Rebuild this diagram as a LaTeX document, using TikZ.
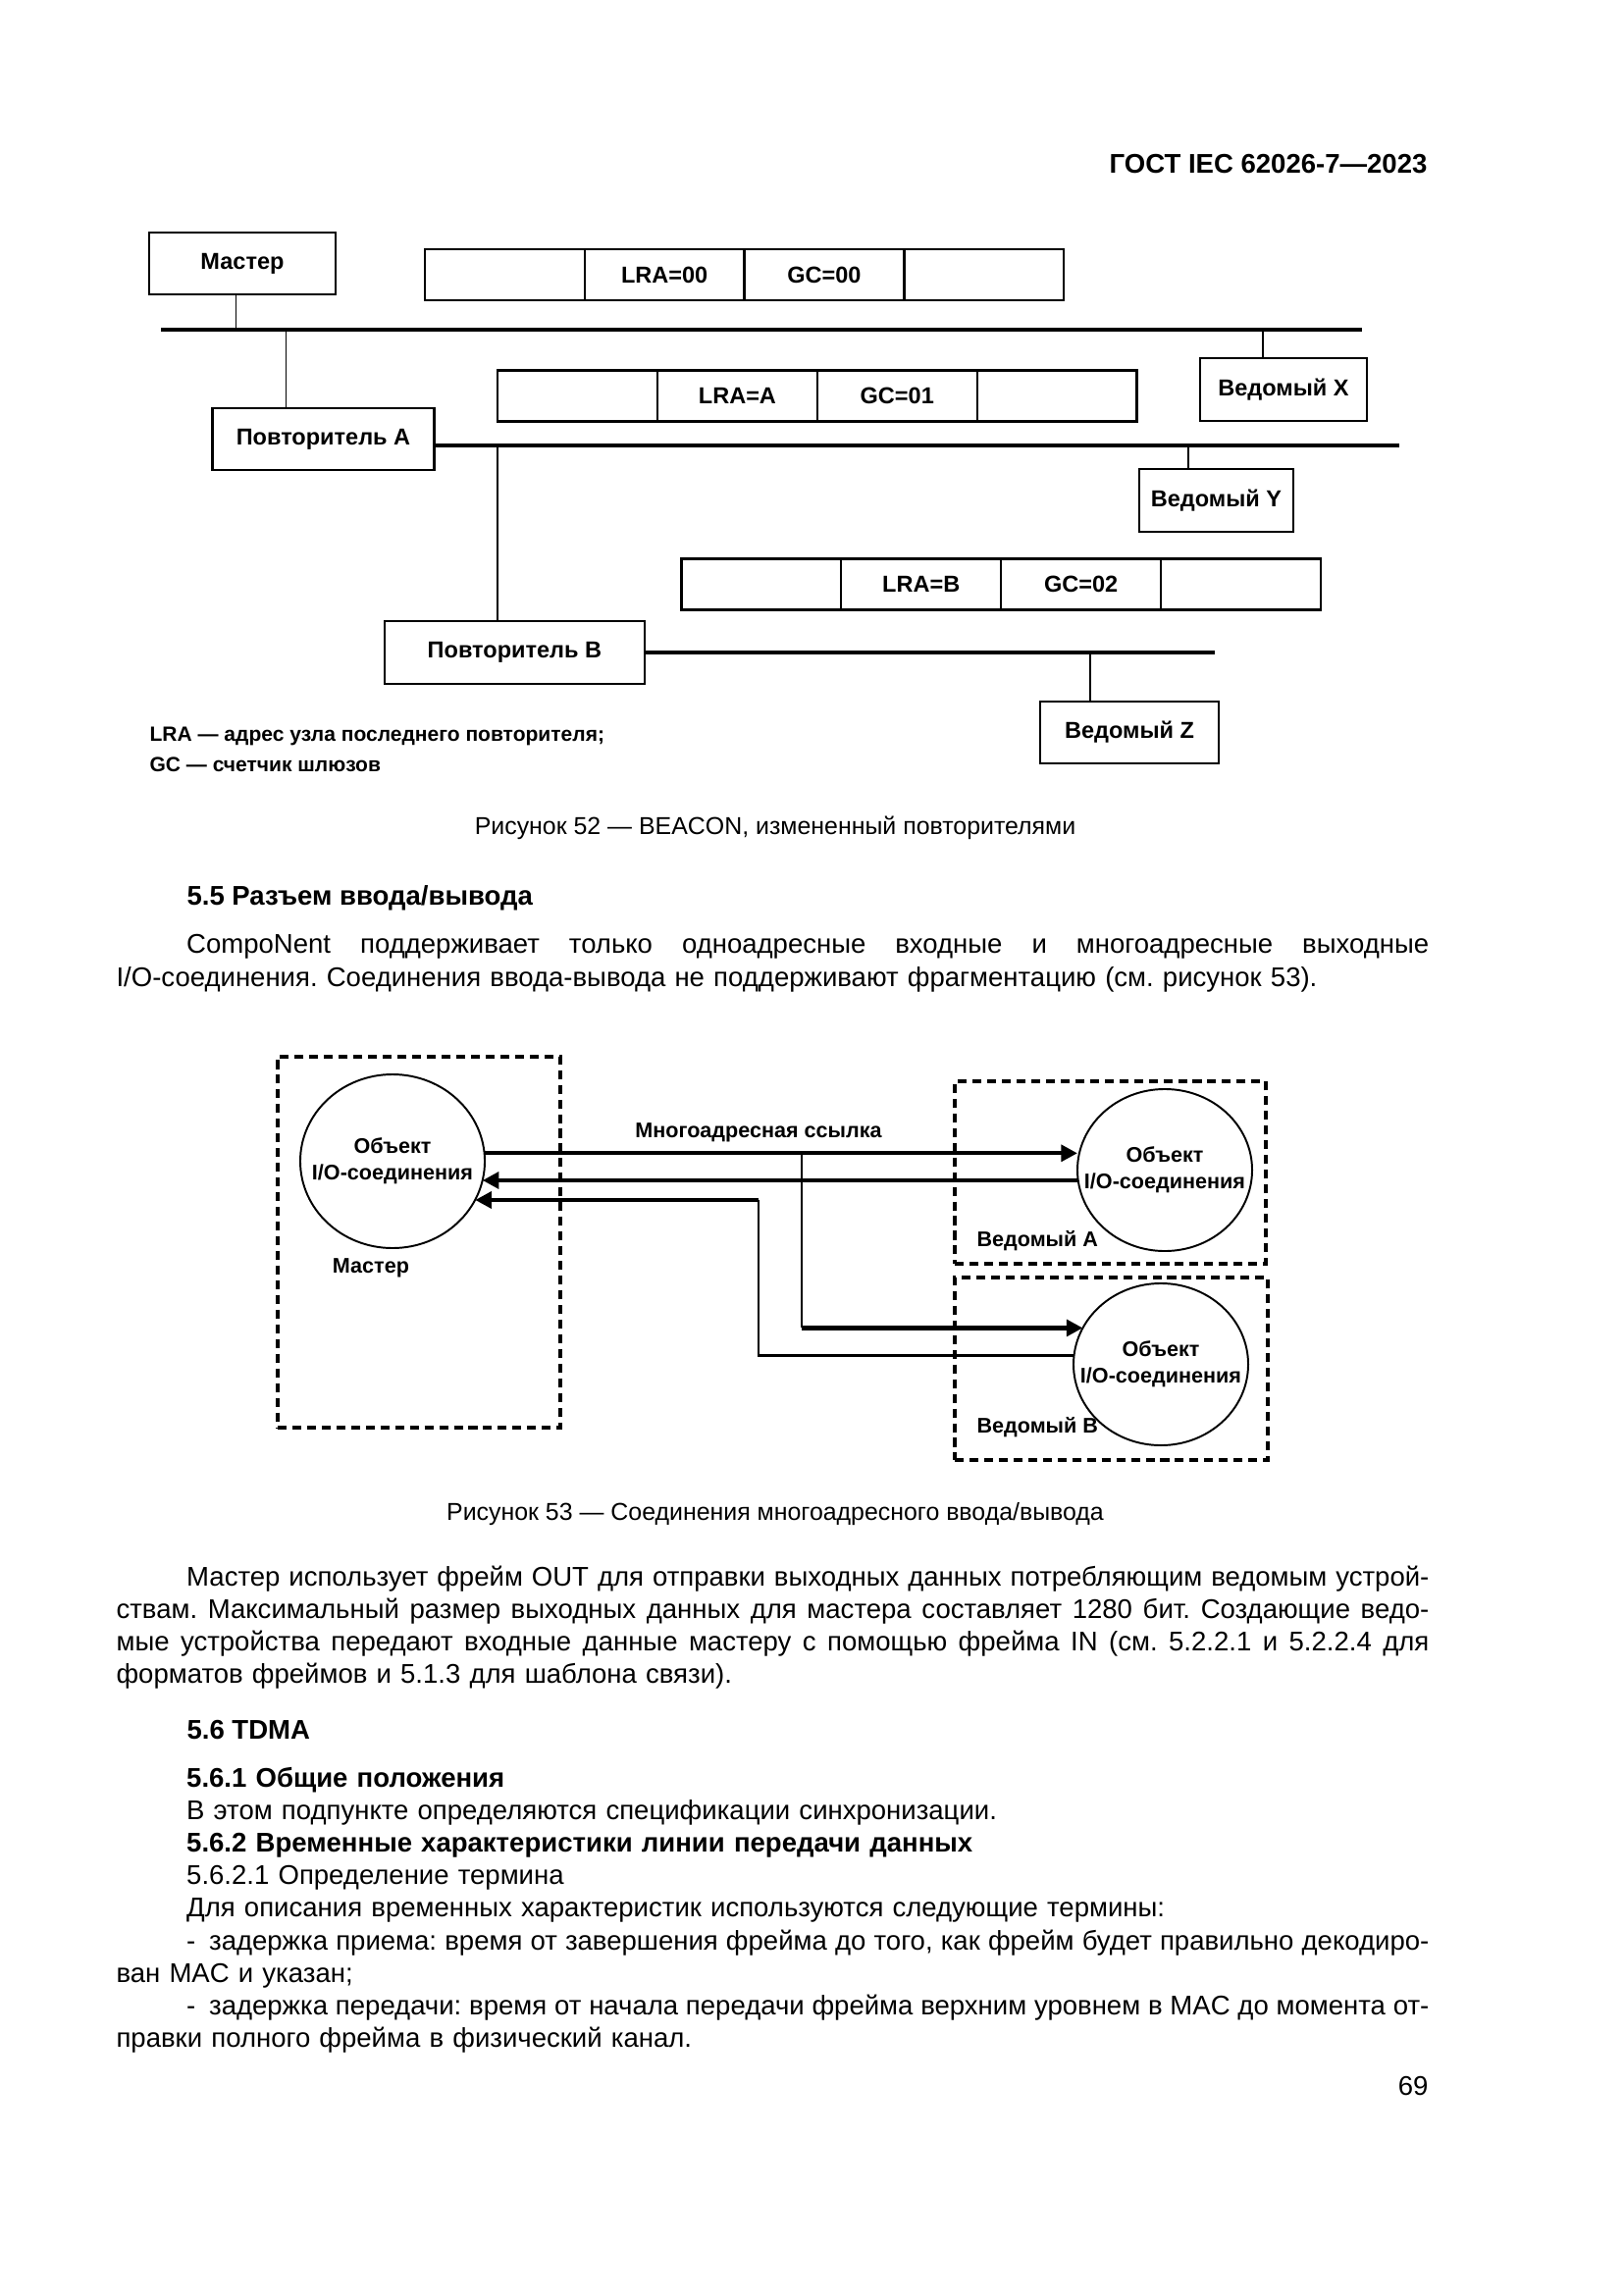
\documentclass[tikz,border=0pt]{standalone}
\usepackage{fontspec}
\setmainfont{Liberation Sans}
\usepackage{tikz}
\usetikzlibrary{positioning}
\usetikzlibrary{shapes.geometric}
\usetikzlibrary{arrows.meta}

\newcommand{\figfont}{\fontsize{8.5}{10}\selectfont\bfseries}
\newcommand{\objfont}{\fontsize{7.8}{9.7}\selectfont\bfseries}
\newcommand{\legendfont}{\fontsize{7.6}{9}\selectfont\bfseries}
\newcommand{\capfont}{\fontsize{9}{11}\selectfont}
\newcommand{\bodyfont}{\fontsize{9.95}{12}\selectfont\frenchspacing}
\newlength{\bodywidth}
\setlength{\bodywidth}{169.9mm}
\newcommand{\firstind}{\hspace*{9.1mm}}
\newcommand{\jline}[1]{\leavevmode\hbox to \bodywidth{\spaceskip=2.77pt plus 4pt minus 1.3pt\relax #1}}

\tikzset{
  unit/.style={draw, line width=0.8pt, minimum height=8mm, inner sep=0pt, outer sep=0pt, font=\figfont},
  cell/.style={unit, minimum width=20.68mm, minimum height=6.6mm},
  bus/.style={line width=1.2pt},
  stem/.style={line width=0.6pt},
  legend/.style={anchor=base west, inner sep=0pt, font=\legendfont},
  groupbox/.style={draw, line width=1.4pt, dash pattern=on 1.15mm off 0.75mm, inner sep=0pt},
  obj/.style={draw, ellipse, line width=0.7pt, inner sep=0pt, outer sep=0pt},
  objtext/.style={font=\objfont, align=center, inner sep=0pt},
  flow/.style={line width=1.5pt, -{Triangle[length=2.1mm,width=2.1mm]}},
  flowline/.style={line width=1pt},
  caption/.style={anchor=base, inner sep=0pt, font=\capfont},
  heading/.style={anchor=base west, inner sep=0pt, font=\bodyfont\bfseries},
  para/.style={anchor=base west, inner sep=0pt, text width=\bodywidth, align=left, font=\bodyfont},
}

\begin{document}
\begin{tikzpicture}[x=0.127mm, y=-0.127mm]
\fill[white] (0,0) rectangle (1654,2339);
\useasboundingbox (0,0) rectangle (1654,2339);

\node[anchor=base east, inner sep=0pt, font=\bodyfont\bfseries] (gost) at (1455,177) {ГОСТ IEC 62026-7—2023};

% Figure 52
\node[unit, minimum width=24.1mm] (master) at (247,268.5) {Мастер};
\node[cell] (f1a) at (514.3,280) {};
\node[cell, right=0pt of f1a] (f1b) {LRA=00};
\node[cell, right=0pt of f1b] (f1c) {GC=00};
\node[cell, right=0pt of f1c] (f1d) {};

\coordinate (bus1w) at (164,336);
\coordinate (bus1e) at (1388,336);
\draw[bus] (bus1w) -- (bus1e);
\coordinate (mstem) at ([xshift=-0.84mm]master.south);
\draw[stem] (mstem) -- (mstem |- bus1w);

\node[unit, minimum width=28.7mm] (repA) at (329.5,447.5) {Повторитель A};
\coordinate (astem) at ([xshift=-4.83mm]repA.north);
\draw[stem] (astem) -- (astem |- bus1w);

\node[unit, minimum width=21.5mm, minimum height=8.13mm] (slX) at (1308,397) {Ведомый X};
\coordinate (xstem) at ([xshift=-2.67mm]slX.north);
\draw[stem] (xstem) -- (xstem |- bus1w);

\node[cell] (f2a) at (588.6,403.5) {};
\node[cell, right=0pt of f2a] (f2b) {LRA=A};
\node[cell, right=0pt of f2b] (f2c) {GC=01};
\node[cell, right=0pt of f2c] (f2d) {};

\coordinate (bus2e) at (1425.6,454);
\draw[bus] (repA.east |- bus2e) -- (bus2e);

\node[unit, minimum width=20mm, minimum height=8.13mm] (slY) at (1239.5,510) {Ведомый Y};
\coordinate (ystem) at ([xshift=-3.6mm]slY.north);
\draw[stem] (ystem) -- (ystem |- bus2e);

\node[unit, minimum width=33.7mm, minimum height=8.13mm] (repB) at (524.4,665) {Повторитель B};
\coordinate (bstem) at ([xshift=-2.2mm]repB.north);
\draw[stem] (bstem) -- (bstem |- bus2e);

\node[cell] (f3a) at (775.9,595.5) {};
\node[cell, right=0pt of f3a] (f3b) {LRA=B};
\node[cell, right=0pt of f3b] (f3c) {GC=02};
\node[cell, right=0pt of f3c] (f3d) {};

\coordinate (bus3e) at (1237.7,665);
\draw[bus] (repB.east) -- (bus3e);

\node[unit, minimum width=23.2mm] (slZ) at (1151,746.5) {Ведомый Z};
\coordinate (zstem) at ([xshift=-5.1mm]slZ.north);
\draw[stem] (zstem) -- (zstem |- bus3e);

\node[legend] (lra) at (152,755) {LRA — адрес узла последнего повторителя;};
\node[legend] (gc) at (152,787) {GC — счетчик шлюзов};

\node[caption] (cap52) at (790,850) {Рисунок 52 — BEACON, измененный повторителями};

% text 5.5
\node[heading] (h55) at (190,922) {5.5 Разъем ввода/вывода};
\node[para, font=\fontsize{9.95}{12.6}\selectfont\frenchspacing] (p55) at (118,971) {%
\jline{\firstind CompoNent поддерживает только одноадресные входные и многоадресные выходные}\\
I/O-соединения. Соединения ввода-вывода не поддерживают фрагментацию (см. рисунок 53).};

% Figure 53
\node[groupbox, minimum width=36.58mm, minimum height=48mm] (mgroup) at (427,1266) {};
\node[groupbox, minimum width=40.26mm, minimum height=23.62mm] (agroup) at (1131.5,1195) {};
\node[groupbox, minimum width=40.51mm, minimum height=23.62mm] (bgroup) at (1132.5,1395) {};

\node[obj, minimum width=23.88mm, minimum height=22.48mm] (objM) at (400,1183.5) {};
\node[objtext] (objMtext) at (objM.center) {Объект\\I/O-соединения};
\node[objtext, below=1.3mm of objM, xshift=-2.8mm] (mname) {Мастер};

\node[obj, minimum width=22.61mm, minimum height=20.96mm] (objA) at (1187,1192.5) {};
\node[objtext] (objAtext) at (objA.center) {Объект\\I/O-соединения};
\node[objtext, anchor=base west] (aname) at (995,1270) {Ведомый А};

\node[obj, minimum width=22.61mm, minimum height=20.96mm] (objB) at (1183,1390.5) {};
\node[objtext] (objBtext) at (objB.center) {Объект\\I/O-соединения};
\node[objtext, anchor=base west] (bname) at (995,1460) {Ведомый В};

\node[objtext] (mcast) at (773,1154) {Многоадресная ссылка};

\draw[flow] (objM.5) -- (objM.5 -| objA.west);
\draw[flow] (objM.-12 -| objA.west) -- (objM.-12);
\coordinate (split) at (817,1175);
\draw[flowline] (split) -- (split |- objB.155);
\draw[flow] (split |- objB.155) -- (objB.155);
\coordinate (turn) at (773,1223);
\draw[flowline] (objB.174) -| (turn);
\draw[flow] (turn) -- (turn -| objM.-25);

\node[caption] (cap53) at (790,1549) {Рисунок 53 — Соединения многоадресного ввода/вывода};

% text after figure 53
\node[para] (pout) at (118,1616) {%
\jline{\firstind Мастер использует фрейм OUT для отправки выходных данных потребляющим ведомым устрой-}\\
\jline{ствам. Максимальный размер выходных данных для мастера составляет 1280 бит. Создающие ведо-}\\
\jline{мые устройства передают входные данные мастеру с помощью фрейма IN (см. 5.2.2.1 и 5.2.2.4 для}\\
форматов фреймов и 5.1.3 для шаблона связи).};

\node[heading] (h56) at (190,1772) {5.6 TDMA};
\node[para] (p56) at (118,1821) {%
\firstind\textbf{5.6.1 Общие положения}\\
\firstind В этом подпункте определяются спецификации синхронизации.\\
\firstind\textbf{5.6.2 Временные характеристики линии передачи данных}\\
\firstind 5.6.2.1 Определение термина\\
\firstind Для описания временных характеристик используются следующие термины:\\
\jline{\firstind -\enspace задержка приема: время от завершения фрейма до того, как фрейм будет правильно декодиро-}\\
ван MAC и указан;\\
\jline{\firstind -\enspace задержка передачи: время от начала передачи фрейма верхним уровнем в MAC до момента от-}\\
правки полного фрейма в физический канал.};

\node[anchor=base east, inner sep=0pt, font=\bodyfont] (pageno) at (1456,2135) {69};
\end{tikzpicture}
\end{document}
